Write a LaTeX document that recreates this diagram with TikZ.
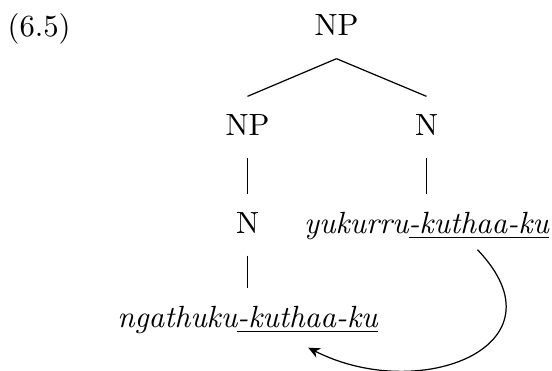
\documentclass[tikz,border=0pt]{standalone}
\usetikzlibrary{arrows.meta}
\begin{document}
\begin{tikzpicture}[x=0.326pt,y=-0.326pt,
  lab/.style={inner sep=0pt, anchor=base, text height=12.4pt, text depth=7.2pt},
  branch/.style={line width=0.4pt},
  curarrow/.style={-{Stealth[length=3.8pt,width=3.4pt]}, line width=0.4pt}]
\useasboundingbox (0,0) rectangle (552,370);
\node[inner sep=0pt, anchor=base west] (ex) at (7,37) {(6.5)};
\node[lab] (np) at (336.5,36) {NP};
\node[lab] (np2) at (247.5,135) {NP};
\node[lab] (n1) at (426.5,135) {N};
\node[lab] (n2) at (247.5,233) {N};
\node[lab] (yk) at (426.5,233) {\textit{yukurru\underline{-kuthaa-ku}}};
\node[lab] (ng) at (247.5,327) {\textit{ngathuku\underline{-kuthaa-ku}}};
\draw[branch] (np.south) -- (np2.north);
\draw[branch] (np.south) -- (n1.north);
\draw[branch] (np2.south) -- (n2.north);
\draw[branch] (n1.south) -- (yk.north);
\draw[branch] (n2.south) -- (ng.north);
\draw[curarrow] ([shift={(-72,-6)}]yk.south east) .. controls +(92,96) and +(112,57) .. ([shift={(-70,-2)}]ng.south east);
\end{tikzpicture}
\end{document}
